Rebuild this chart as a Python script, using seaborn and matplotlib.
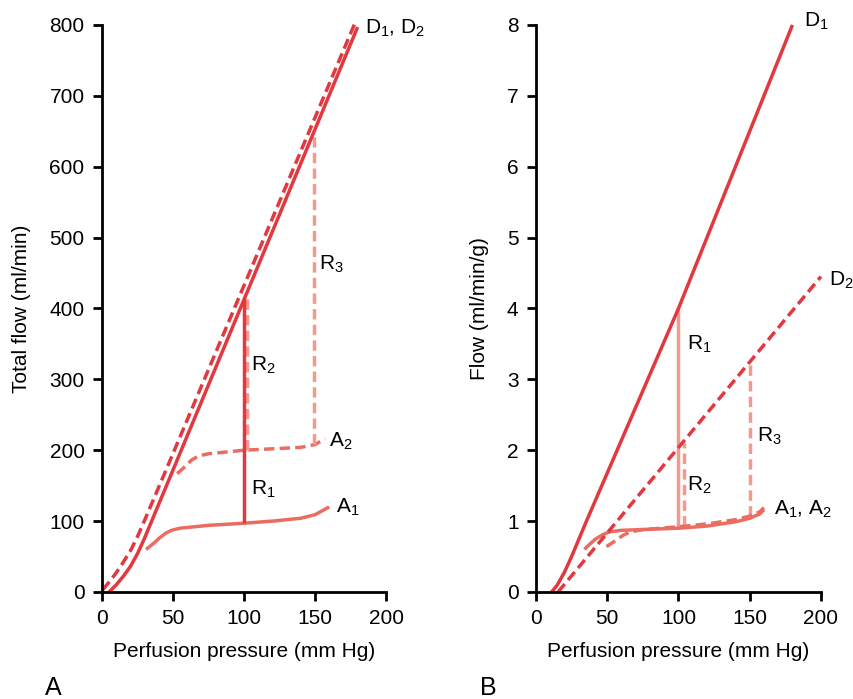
import matplotlib
matplotlib.use("Agg")
import matplotlib.pyplot as plt
import seaborn as sns
import pandas as pd

sns.set_style("ticks")
plt.rcParams['font.family'] = ['Liberation Sans', 'DejaVu Sans']
plt.rcParams['mathtext.fontset'] = 'custom'
plt.rcParams['mathtext.rm'] = 'Liberation Sans'
plt.rcParams['mathtext.it'] = 'Liberation Sans'
plt.rcParams['text.color'] = 'black'
plt.rcParams['axes.labelcolor'] = 'black'

# ---------- Panel A data (Total flow, ml/min) ----------
a_d1_x = [5, 10, 15, 20, 25, 30, 35, 50, 180]
a_d1_y = [0, 10, 22, 36, 54, 76, 100, 172, 797]
a_d2_x = [0.5, 5, 10, 15, 20, 25, 30, 45.5, 178]
a_d2_y = [3, 14, 27, 42, 58, 78, 101, 174, 802]
a_a1_x = [31, 36, 41, 45, 49, 55, 75, 100, 120, 140, 150, 160]
a_a1_y = [60, 68, 77, 83, 87, 90, 94, 97, 100, 104, 109, 120]
a_a2_x = [53, 58, 63, 68, 75, 85, 100, 120, 140, 150, 157]
a_a2_y = [167, 176, 186, 192, 195, 197, 200, 202, 204, 208, 216]
a_r1_x = [100, 100]
a_r1_y = [97, 416]
a_r2_x = [102, 102]
a_r2_y = [201, 420]
a_r3_x = [149, 149]
a_r3_y = [209, 652]

# ---------- Panel B data (Flow, ml/min/g) ----------
b_d1_x = [11, 15, 20, 25, 30, 35, 100, 180]
b_d1_y = [0, 0.1, 0.28, 0.5, 0.74, 0.98, 4.0, 8.0]
b_d2_x = [15.5, 200]
b_d2_y = [0, 4.45]
b_a1_x = [34, 38, 42, 47, 52, 60, 73, 100, 120, 140, 150, 157, 160]
b_a1_y = [0.6, 0.68, 0.75, 0.81, 0.85, 0.87, 0.88, 0.9, 0.93, 0.99, 1.04, 1.1, 1.16]
b_a2_x = [49.5, 54, 58, 62, 67, 75, 100, 120, 140, 150, 157, 160]
b_a2_y = [0.64, 0.7, 0.76, 0.81, 0.85, 0.88, 0.92, 0.96, 1.02, 1.07, 1.13, 1.19]
b_r1_x = [100, 100]
b_r1_y = [0.9, 4.02]
b_r2_x = [104, 104]
b_r2_y = [0.93, 2.1]
b_r3_x = [150, 150]
b_r3_y = [1.07, 3.22]

RED = '#e2383f'
SALMON = '#eb6d62'
PINK = '#f29a8e'
LW = 2.5
DASH = (3.0, 1.5)

fig = plt.figure(figsize=(8.54, 6.99), dpi=100)
axA = fig.add_axes([0.1194, 0.1531, 0.3326, 0.8112])
axB = fig.add_axes([0.6276, 0.1531, 0.3337, 0.8112])


def draw(ax, x, y, color, dashed=False):
    df = pd.DataFrame({'x': x, 'y': y})
    sns.lineplot(data=df, x='x', y='y', ax=ax, color=color, lw=LW,
                 sort=False, estimator=None, legend=False)
    line = ax.lines[-1]
    line.set_solid_capstyle('butt')
    line.set_solid_joinstyle('round')
    line.set_clip_on(False)
    if dashed:
        line.set_dashes(DASH)
        line.set_dash_capstyle('butt')


# Panel A
draw(axA, a_a1_x, a_a1_y, SALMON)
draw(axA, a_a2_x, a_a2_y, SALMON, True)
draw(axA, a_r2_x, a_r2_y, PINK, True)
draw(axA, a_r3_x, a_r3_y, PINK, True)
draw(axA, a_r1_x, a_r1_y, RED)
draw(axA, a_d1_x, a_d1_y, RED)
draw(axA, a_d2_x, a_d2_y, RED, True)

# Panel B
draw(axB, b_r1_x, b_r1_y, PINK)
draw(axB, b_r2_x, b_r2_y, PINK, True)
draw(axB, b_r3_x, b_r3_y, PINK, True)
draw(axB, b_a1_x, b_a1_y, SALMON)
draw(axB, b_a2_x, b_a2_y, SALMON, True)
draw(axB, b_d1_x, b_d1_y, RED)
draw(axB, b_d2_x, b_d2_y, RED, True)

FS = 15
for ax in (axA, axB):
    ax.set_xlim(0, 200)
    ax.set_xticks([0, 50, 100, 150, 200])
    sns.despine(ax=ax)
    ax.spines['left'].set_linewidth(2)
    ax.spines['bottom'].set_linewidth(2)
    ax.spines['left'].set_color('black')
    ax.spines['bottom'].set_color('black')
    ax.tick_params(axis='both', direction='out', length=6.5, width=2,
                   labelsize=FS, colors='black', labelcolor='black', pad=6)
    ax.set_xlabel('Perfusion pressure (mm Hg)', fontsize=FS, labelpad=10)
    ax.patch.set_alpha(0)

axA.set_ylim(0, 800)
axA.set_yticks(range(0, 801, 100))
axA.set_ylabel('Total flow (ml/min)', fontsize=FS, labelpad=13)
axB.set_ylim(0, 8)
axB.set_yticks(range(0, 9))
axB.set_ylabel('Flow (ml/min/g)', fontsize=FS, labelpad=13)

TS = 15
axA.text(185, 795, r'D$_1$, D$_2$', fontsize=TS, va='center', ha='left')
axA.text(153, 462, r'R$_3$', fontsize=TS, va='center', ha='left')
axA.text(105, 320, r'R$_2$', fontsize=TS, va='center', ha='left')
axA.text(160, 212, r'A$_2$', fontsize=TS, va='center', ha='left')
axA.text(105, 145, r'R$_1$', fontsize=TS, va='center', ha='left')
axA.text(165, 120, r'A$_1$', fontsize=TS, va='center', ha='left')

axB.text(188, 8.05, r'D$_1$', fontsize=TS, va='center', ha='left')
axB.text(206, 4.4, r'D$_2$', fontsize=TS, va='center', ha='left')
axB.text(106, 3.5, r'R$_1$', fontsize=TS, va='center', ha='left')
axB.text(106, 1.5, r'R$_2$', fontsize=TS, va='center', ha='left')
axB.text(155, 2.2, r'R$_3$', fontsize=TS, va='center', ha='left')
axB.text(167, 1.16, r'A$_1$, A$_2$', fontsize=TS, va='center', ha='left')

fig.text(45 / 854, 1 - 688 / 699, 'A', fontsize=18, ha='left', va='center')
fig.text(480 / 854, 1 - 688 / 699, 'B', fontsize=18, ha='left', va='center')

fig.savefig('out.png', dpi=100, facecolor='white')
